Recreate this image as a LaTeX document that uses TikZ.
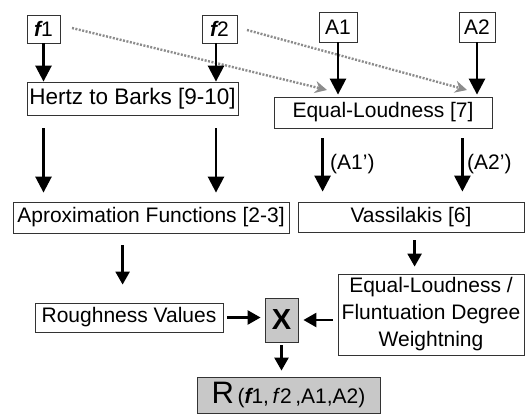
\documentclass[tikz,border=0pt]{standalone}
\usepackage{fontspec}
\setmainfont{Liberation Sans}
\usetikzlibrary{arrows.meta}
\definecolor{boxgray}{RGB}{200,200,200}
\definecolor{dotgray}{RGB}{140,140,140}
\tikzset{
    every node/.style={align=center,font=\fontsize{21}{27}\selectfont,inner sep=0pt},
    block/.style={draw=black!80,line width=0.8pt,rectangle,},
    result/.style={block,fill=boxgray,},
    flow/.style={line width=2.6pt,-{Triangle[length=16pt,width=16pt]},},
    smallflow/.style={line width=2.4pt,-{Triangle[length=13pt,width=14pt]},},
    hint/.style={dotgray,line width=2.4pt,dash pattern=on 2pt off 1.5pt,-{Stealth[length=12pt,width=12pt]},},
}

\begin{document}
\begin{tikzpicture}[x=1pt,y=-1pt]
        \useasboundingbox (0,0) rectangle (527,414);

        \node[block, minimum width=33, minimum height=28] (f1) at (43.5, 29) {{\bfseries\itshape f}1};
        \node[block, minimum width=35, minimum height=28] (f2) at (219.5, 29) {{\bfseries\itshape f}2};
        \node[block, minimum width=38, minimum height=30] (a1) at (338, 27) {A1};
        \node[block, minimum width=36, minimum height=30] (a2) at (477, 27) {A2};

        \node[block, minimum width=211, minimum height=33, font=\fontsize{22.5}{27}\selectfont] (hertz) at (132.5, 98.5) {Hertz to Barks [9-10]};
        \node[block, minimum width=218, minimum height=31] (loud) at (383, 112.5) {Equal-Loudness [7]};

        \node[block, minimum width=276, minimum height=31] (aprox) at (151, 217.5) {Aproximation Functions [2-3]};
        \node[block, minimum width=226, minimum height=30] (vass) at (411, 217) {Vassilakis [6]};

        \node[block, minimum width=188, minimum height=29] (rough) at (129, 317.5) {Roughness Values};
        \node[result, minimum width=33, minimum height=44, font=\fontsize{29}{30}\selectfont\bfseries] (mult) at (281.5, 320) {X};
        \node[block, minimum width=186, minimum height=81] (weight) at (431, 314.5) {Equal-Loudness /\\Fluntuation Degree\\Weightning};
        \node[result, minimum width=183, minimum height=36] (rough_out) at (288.5, 395)
            {{\fontsize{31}{32}\selectfont R}\,({\bfseries\itshape f}1,\,\textit{f}2\,,A1,A2)};

        \node[anchor=west] (a1_label) at (330, 164) {(A1')};
        \node[anchor=west] (a2_label) at (467, 164) {(A2')};

        \coordinate (hint1) at (327, 90);
        \coordinate (hint2) at (467, 90);

        \draw[hint] (72, 28) to (hint1);
        \draw[hint] (247, 30) to (hint2);

        \draw[flow] (f1.south) to (f1.south |- hertz.north);
        \draw[flow] ([xshift=-3.5]f2.south) to ([xshift=-3.5]f2.south |- hertz.north);
        \draw[flow, shorten >=2pt] (a1.south) to (a1.south |- loud.north);
        \draw[flow, shorten >=2pt] (a2.south) to (a2.south |- loud.north);

        \draw[flow, shorten <=13pt, shorten >=9pt] (f1.south |- hertz.south) to (f1.south |- aprox.north);
        \draw[flow, shorten <=13pt, shorten >=9pt] ([xshift=-3.5]f2.south |- hertz.south) to ([xshift=-3.5]f2.south |- aprox.north);
        \draw[flow, shorten <=10pt, shorten >=10pt] ([xshift=49]loud.south west) to ([xshift=25]vass.north west);
        \draw[flow, shorten <=10pt, shorten >=10pt] ([xshift=-30]loud.south east) to ([xshift=-62]vass.north east);

        \draw[smallflow, shorten <=12pt, shorten >=18pt] ([xshift=110]aprox.south west) to ([xshift=88]rough.north west);
        \draw[smallflow, shorten <=8pt, shorten >=7pt] ([xshift=117]vass.south west) to ([xshift=77]weight.north west);

        \draw[smallflow, shorten <=4pt, shorten >=4pt] (rough.east) to (mult.west |- rough.east);
        \draw[smallflow, shorten <=5pt, shorten >=5pt] (weight.west |- mult.east) to (mult.east);
        \draw[smallflow, shorten <=3pt, shorten >=6pt] (mult.south) to (rough_out.north -| mult.south);
    \end{tikzpicture}
\end{document}
